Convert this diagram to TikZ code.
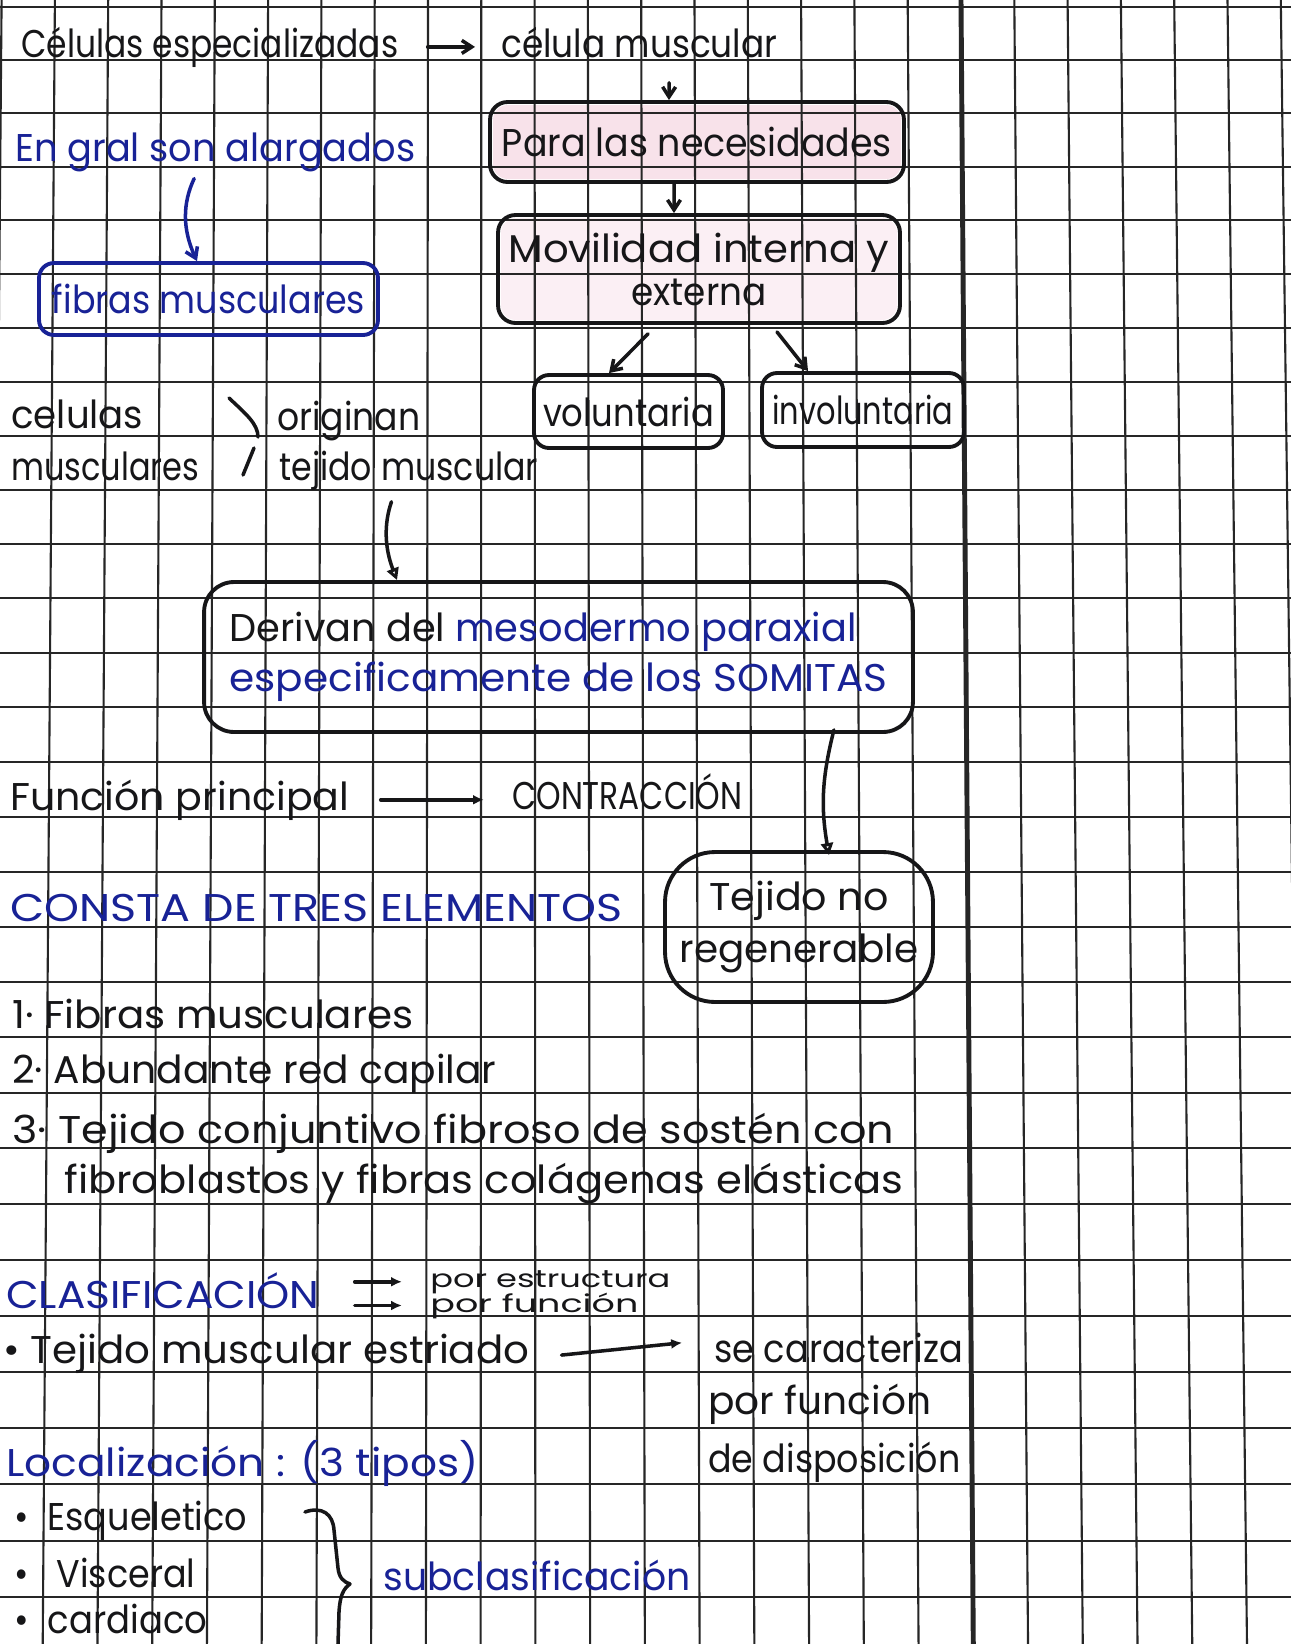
\documentclass[tikz,border=0pt]{standalone}
\usepackage{fontspec}
\setmainfont{Poppins}
\usepackage{graphicx}
\usetikzlibrary{arrows.meta,positioning}
\definecolor{ink}{RGB}{22,22,24}
\definecolor{inkblue}{RGB}{24,34,150}
\definecolor{gridink}{RGB}{38,38,38}
\definecolor{hilite}{RGB}{248,226,234}
\newdimen\ux \ux=0.02cm
\newcommand{\hw}[2]{\resizebox{#1\ux}{\height}{#2}}
\tikzset{>={Straight Barb[length=2mm,width=2.6mm]}}
\tikzset{pen/.style={draw=ink, line width=2pt, line cap=round, line join=round}}
\tikzset{arr/.style={pen,->}}
\tikzset{arrf/.style={pen,-{Latex[length=2.2mm,width=2mm]}}}
\tikzset{arro/.style={pen,-{Triangle[open,length=2.4mm,width=2.4mm]}}}
\tikzset{txt/.style={inner sep=0pt, anchor=base west, text=ink}}
\tikzset{box/.style={pen, line width=2.2pt, rounded corners=0.35cm, inner sep=0pt, align=center, text=ink}}
\tikzset{gridline/.style={draw=gridink, line width=1.2pt}}

\begin{document}
\begin{tikzpicture}[x=0.02cm, y=-0.02cm]
  \tikzstyle{every node}=[font=\fontsize{22}{26}\selectfont]
    \useasboundingbox (0,0) rectangle (1291,1644);
    \fill[white] (0,0) rectangle (1291,1644);

    %%%% highlighter
    \fill[hilite, rounded corners=0.3cm] (493,105) rectangle (901,179);
    \fill[hilite!55, rounded corners=0.3cm] (501,218) rectangle (897,320);

    %%%% grid paper
    \begin{scope}
    \clip (0,0) rectangle (1291,1644);
    \foreach \k in {0,...,24}{
      \pgfmathsetmacro\xt{961+(\k-18)*53.3}
      \pgfmathsetmacro\xb{973.3+(\k-18)*54.74}
      \draw[gridline] (\xt,0) -- (\xb,1644);
    }
    \foreach \k in {0,...,29}{
      \pgfmathsetmacro\yk{7+53.09*\k+0.06*\k*\k}
      \draw[gridline] (0,\yk) -- (1291,\yk);
    }
    \draw[gridline, line width=2.8pt] (961,0) -- (973.3,1644);
    \end{scope}

    %%%% Top
    \node[txt] (cesp) at (21,57) {\hw{377}{Células especializadas}};
    \node[txt] (cmus) at (501,57) {\hw{276}{célula muscular}};
    \node[box, minimum width=8.28cm, minimum height=1.6cm] (nec) at (697,142) {\hw{390}{Para las necesidades}};
    \node[box, minimum width=8.04cm, minimum height=2.16cm, font=\fontsize{22}{24.5}\selectfont] (mov) at (699,269)
      {\hw{381}{Movilidad interna y}\\\hw{135}{externa}};
    \node[box, rounded corners=0.3cm, minimum width=3.78cm, minimum height=1.46cm] (vol) at (628.5,411.5) {\hw{171}{voluntaria}};
    \node[box, rounded corners=0.3cm, minimum width=4.04cm, minimum height=1.48cm] (invol) at (863,410) {\hw{181}{involuntaria}};

    %%%% Left column
    \node[txt, text=inkblue] (gral) at (15,161) {\hw{400}{En gral son alargados}};
    \node[box, draw=inkblue, text=inkblue, rounded corners=0.3cm, minimum width=6.78cm, minimum height=1.44cm] (fib) at (208.5,299)
      {\hw{313}{fibras musculares}};
    \node[txt] (celu) at (11,428) {\hw{132}{celulas}};
    \node[txt] (musc) at (11,480) {\hw{188}{musculares}};
    \node[txt] (orig) at (277,430) {\hw{143}{originan}};
    \node[txt] (tejm) at (279,480) {\hw{259}{tejido muscular}};

    %%%% Origin box
    \node[box, rounded corners=0.6cm, minimum width=14.18cm, minimum height=3cm, align=left, font=\fontsize{22}{28.5}\selectfont] (der) at (558.5,657)
      {\hw{627}{Derivan del \textcolor{inkblue}{mesodermo paraxial}}\\\textcolor{inkblue}{\hw{658}{especificamente de los SOMITAS}}};
    \node[box, rounded corners=1cm, minimum width=5.36cm, minimum height=3cm, font=\fontsize{22}{29.6}\selectfont] (tej) at (799,927)
      {\hw{179}{Tejido no}\\\hw{239}{regenerable}};

    %%%% Function and elements
    \node[txt] (func) at (10,810) {\hw{339}{Función principal}};
    \node[txt] (contr) at (512,809) {\hw{230}{CONTRACCIÓN}};
    \node[txt, text=inkblue] (consta) at (10,921) {\hw{612}{CONSTA DE TRES ELEMENTOS}};
    \node[txt] (el1) at (12,1028) {\hw{401}{1· Fibras musculares}};
    \node[txt] (el2) at (12,1083) {\hw{484}{2· Abundante red capilar}};
    \node[txt] (el3) at (12,1143) {\hw{882}{3· Tejido conjuntivo fibroso de sostén con}};
    \node[txt] (el4) at (64,1193) {\hw{839}{fibroblastos y fibras colágenas elásticas}};

    %%%% Classification
    \node[txt, text=inkblue] (clasif) at (6,1308) {\hw{313}{CLASIFICACIÓN}};
    \node[txt, font=\fontsize{14}{16}\selectfont] (porest) at (430,1287) {\hw{240}{por estructura}};
    \node[txt, font=\fontsize{14}{16}\selectfont] (porfun) at (430,1312) {\hw{208}{por función}};
    \node[txt] (estri) at (3,1363) {\hw{526}{• Tejido muscular estriado}};
    \node[txt] (secar) at (714,1362) {\hw{249}{se caracteriza}};
    \node[txt] (porfn) at (708,1414) {\hw{223}{por función}};
    \node[txt] (disp) at (708,1472) {\hw{252}{de disposición}};
    \node[txt, text=inkblue] (local) at (6,1476) {\hw{472}{Localización : (3 tipos)}};
    \node[txt] (esq) at (14,1530) {\hw{233}{•~~Esqueletico}};
    \node[txt] (visc) at (14,1587) {\hw{181}{•~~~Visceral}};
    \node[txt] (card) at (14,1633) {\hw{193}{•~~cardiaco}};
    \node[txt, text=inkblue] (subc) at (383,1590) {\hw{307}{subclasificación}};

    %%%% Arrows
    \draw[arr, shorten <=0.58cm, shorten >=0.52cm] (cesp.east) -- (cmus.west |- cesp.east);
    \draw[arr, shorten <=0.5cm] ([xshift=0.6cm]cmus.south) -- ([xshift=-0.56cm]nec.north);
    \draw[arr] ([xshift=-0.46cm]nec.south) -- ([xshift=-0.5cm]mov.north);
    \draw[arr] ([xshift=-1.02cm,yshift=-0.18cm]mov.south) -- ([xshift=-0.39cm]vol.north);
    \draw[arr] ([xshift=1.56cm,yshift=-0.14cm]mov.south) -- ([xshift=-1.1cm]invol.north);
    \draw[arr, draw=inkblue, shorten <=0.15cm] ([xshift=-0.36cm]gral.south) to[bend right=25] ([xshift=-0.23cm]fib.north);
    \draw[arro, shorten <=0.24cm] ([xshift=-0.27cm]tejm.south) to[bend right=20] ([xshift=-3.23cm]der.north);
    \draw[arro] ([xshift=5.51cm,yshift=0.08cm]der.south) to[bend right=12] ([xshift=0.6cm,yshift=-0.1cm]tej.north);
    \draw[arrf, shorten <=0.62cm, shorten >=0.56cm] (func.east) -- (contr.west |- func.east);
    \draw[arrf, shorten <=0.7cm, shorten >=0.56cm] (clasif.east |- porest.west) -- (porest.west);
    \draw[arrf, shorten <=0.7cm, shorten >=0.56cm] (clasif.east |- porfun.west) -- (porfun.west);
    \draw[arrf, shorten <=0.64cm, shorten >=0.64cm] ([yshift=-0.1cm]estri.east) -- ([yshift=0.16cm]secar.west);

    %%%% Brackets
    \draw[pen] (229,398) .. controls (246,414) and (258,424) .. (258,437);
    \draw[pen] (254,448) -- (243,475);
    \draw[pen] (305,1512) .. controls (322,1506) and (333,1514) .. (334,1530) -- (338,1568)
      .. controls (339,1578) and (344,1582) .. (350,1584) .. controls (343,1589) and (340,1596) .. (339,1612) -- (338,1644);

  \end{tikzpicture}
\end{document}
